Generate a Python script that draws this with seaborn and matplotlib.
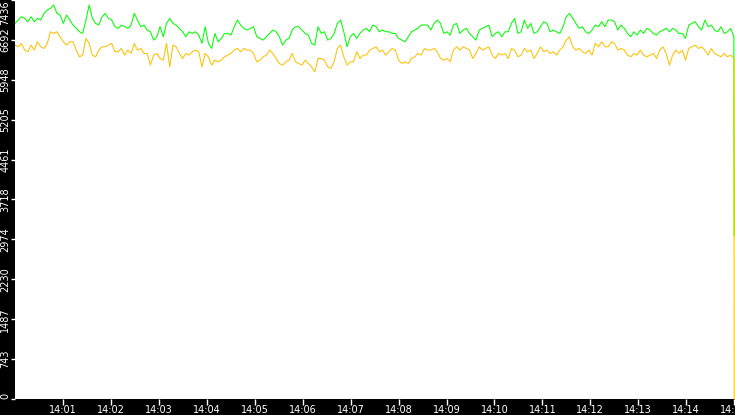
import numpy as np
import pandas as pd
import matplotlib
matplotlib.use("Agg")
import matplotlib.pyplot as plt
import matplotlib.dates as mdates
import seaborn as sns

# values, one every ~3 px (roughly every 4 s)
green = [
    7000, 7062, 7125, 7093, 7031, 7125, 7031, 7093, 7062, 7187, 7249, 7280, 7343, 7187, 7156, 7000,
    7156, 7062, 6969, 6907, 6844, 6813, 7062, 7343, 7093, 7000, 6969, 7125, 7187, 7093, 7062, 6938,
    6907, 6969, 6938, 6907, 6969, 7187, 7062, 6938, 6969, 6876, 6844, 6689, 6751, 6938, 6751, 7000,
    7093, 7000, 6969, 6907, 6844, 6751, 6844, 6813, 6844, 6782, 6627, 6938, 6627, 6533, 6813, 6658,
    6720, 6813, 6813, 6782, 6938, 7062, 6969, 6907, 6876, 6907, 6938, 6751, 6720, 6689, 6751, 6813,
    6876, 6844, 6751, 6595, 6689, 6720, 6876, 6938, 6938, 6876, 6813, 6782, 6627, 6595, 6938, 6813,
    6844, 6689, 6720, 6813, 7000, 7062, 6844, 6564, 6751, 6813, 6720, 6813, 6876, 6907, 6844, 6969,
    6938, 6844, 6876, 6844, 6844, 6813, 6813, 6720, 6689, 6658, 6751, 6844, 6876, 6907, 6969, 6969,
    6969, 6876, 7000, 7062, 7000, 6813, 6844, 6782, 6969, 7000, 6813, 6876, 6907, 6813, 6751, 6689,
    6876, 6907, 6938, 6969, 6751, 6813, 6844, 6751, 6844, 6844, 7000, 7093, 6813, 6844, 7062, 6907,
    7000, 6813, 6844, 6938, 7031, 7000, 6844, 6876, 6844, 6813, 6938, 7125, 7187, 7093, 7000, 6907,
    6938, 6844, 6813, 6876, 6969, 6938, 7031, 6938, 7062, 7062, 7031, 6876, 6969, 6907, 6813, 6751,
    6844, 6782, 6876, 6813, 6907, 6876, 6813, 6782, 6844, 6876, 6907, 6844, 6907, 6876, 6813, 6813,
    6720, 6969, 7000, 7031, 6938, 6876, 7062, 6938, 6969, 6876, 6844, 6938, 6813, 6844, 6907, 6751,
    3046,
]
orange = [
    6595, 6564, 6627, 6502, 6471, 6595, 6502, 6658, 6564, 6533, 6627, 6844, 6813, 6844, 6751, 6658,
    6595, 6658, 6658, 6502, 6377, 6409, 6720, 6627, 6409, 6377, 6502, 6564, 6564, 6595, 6627, 6471,
    6471, 6533, 6409, 6502, 6440, 6627, 6502, 6533, 6440, 6440, 6222, 6409, 6440, 6346, 6315, 6627,
    6191, 6595, 6564, 6440, 6346, 6440, 6409, 6471, 6502, 6471, 6191, 6440, 6377, 6222, 6315, 6284,
    6315, 6377, 6409, 6440, 6502, 6533, 6471, 6533, 6502, 6502, 6440, 6284, 6315, 6377, 6409, 6502,
    6440, 6346, 6253, 6222, 6284, 6315, 6440, 6284, 6253, 6222, 6315, 6253, 6191, 6097, 6346, 6346,
    6315, 6191, 6160, 6284, 6533, 6595, 6377, 6222, 6284, 6284, 6471, 6346, 6409, 6409, 6502, 6533,
    6564, 6471, 6502, 6409, 6471, 6533, 6502, 6315, 6253, 6284, 6253, 6346, 6377, 6440, 6409, 6533,
    6502, 6502, 6533, 6471, 6346, 6315, 6346, 6284, 6502, 6564, 6502, 6564, 6533, 6502, 6346, 6440,
    6564, 6502, 6533, 6564, 6409, 6346, 6440, 6409, 6440, 6346, 6533, 6502, 6377, 6409, 6533, 6471,
    6502, 6346, 6440, 6564, 6471, 6502, 6440, 6471, 6409, 6502, 6564, 6689, 6751, 6564, 6502, 6533,
    6471, 6440, 6502, 6409, 6627, 6564, 6658, 6564, 6564, 6658, 6627, 6502, 6533, 6502, 6409, 6377,
    6440, 6409, 6502, 6409, 6377, 6409, 6440, 6346, 6502, 6564, 6440, 6222, 6409, 6502, 6440, 6502,
    6315, 6533, 6564, 6595, 6533, 6564, 6502, 6409, 6533, 6440, 6409, 6377, 6440, 6377, 6409, 6346,
    0,
]
y_max = 7436
tick_minutes = list(range(1, 16))

start = pd.Timestamp("2024-01-01 14:00:00")
end = pd.Timestamp("2024-01-01 14:15:00")
times = list(pd.date_range(start, "2024-01-01 14:14:59.6", periods=len(green) - 1)) + [end]

df = pd.DataFrame({
    "time": times * 2,
    "value": green + orange,
    "series": ["green"] * len(green) + ["orange"] * len(orange),
})

fig = plt.figure(figsize=(7.35, 4.15), dpi=100, facecolor="black")
ax = fig.add_axes([15 / 735, 16 / 415, 720 / 735, 399 / 415])
ax.set_facecolor("white")

sns.lineplot(data=df, x="time", y="value", hue="series",
             palette={"green": "#00ff00", "orange": "#ffc000"},
             estimator=None, sort=False, linewidth=0.75, legend=False, ax=ax)

# small margin on the right so the final drop stays inside the plot
ax.set_xlim(start, end + pd.Timedelta(seconds=1))
ax.set_ylim(0, y_max)
ax.set_xlabel("")
ax.set_ylabel("")
for s in ax.spines.values():
    s.set_visible(False)

# y ticks: ten equal steps, values truncated
yt = [y_max * i / 10 for i in range(11)]
ax.set_yticks(yt)
ax.set_yticklabels([str(int(v)) for v in yt], rotation=90, va="center",
                   color="white", fontsize=7)
ax.get_yticklabels()[-1].set_va("top")
ax.get_yticklabels()[0].set_va("bottom")

ax.set_xticks([start + pd.Timedelta(minutes=m) for m in tick_minutes])
ax.xaxis.set_major_formatter(mdates.DateFormatter("%H:%M"))
ax.tick_params(axis="x", colors="white", labelsize=7, length=4, width=1, pad=0)
ax.tick_params(axis="y", colors="white", length=3, width=1, pad=0.5)
for lab in ax.get_xticklabels():
    lab.set_rotation(0)
    lab.set_ha("center")

fig.savefig("out.png", dpi=100, facecolor="black")
